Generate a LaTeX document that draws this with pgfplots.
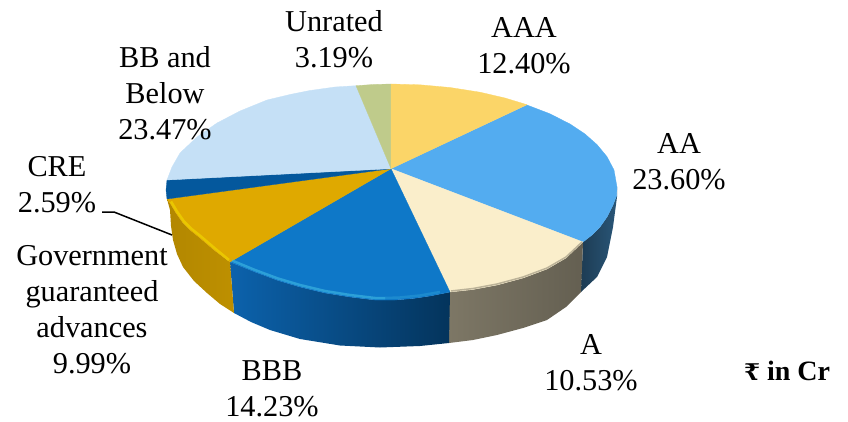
\documentclass[border=0pt]{standalone}
\usepackage{pgfplots}
\pgfplotsset{compat=1.18}
\usepackage{fontspec}
\setmainfont{Liberation Serif}
\newfontfamily\rupfont{DejaVu Serif}
\definecolor{cAAA}{HTML}{FBD568}
\definecolor{cAA}{HTML}{53ACF0}
\definecolor{cA}{HTML}{FAEECB}
\definecolor{cBBB}{HTML}{0E78C8}
\definecolor{cGov}{HTML}{DFA900}
\definecolor{cCRE}{HTML}{04589D}
\definecolor{cBB}{HTML}{C5E0F6}
\definecolor{cUn}{HTML}{BFCB8B}
\definecolor{wBBBa}{HTML}{0C62AC}
\definecolor{wBBBb}{HTML}{064A82}
\definecolor{wBBBc}{HTML}{04345C}
\tikzset{lab/.style={align=center, font=\fontsize{30.3}{36}\selectfont, inner sep=0pt}}
\begin{document}
\begin{tikzpicture}
\begin{axis}[
  scale only axis, width=848pt, height=422pt,
  xmin=0, xmax=848, ymin=0, ymax=422, y dir=reverse,
  hide axis, clip=false, no markers,
  every axis plot/.append style={line join=round}
]
\path (axis cs:0,0) rectangle (axis cs:848,422);
% side walls
\addplot[draw=none, left color=cAA!35!black, right color=cAA!50!black] coordinates {
 (617,187)(616.5,196)(613,205)(607,217)(600,227)(592,235)(583,242)
 (581,292)(597,277)(607,257)(613,227)(617,197)} -- cycle;
\addplot[draw=none, left color=cA!50!black, right color=cA!40!black] coordinates {
 (583,242)(566,258)(547,269)(523,278)(497,285)(473,289.5)(450,292)
 (449,343)(473,340)(497,335)(523,328)(547,320)(566,307)(581,292)} -- cycle;
\addplot[draw=none, left color=wBBBa, middle color=wBBBb, right color=wBBBc] coordinates {
 (450,292)(430,296)(413,298.5)(395,300)(375,300)(350,297)(325,293)(300,287)(278,280.5)(255,272)(230,262)
 (234,313)(251,322)(270,330)(300,339)(340,345.5)(380,347.5)(420,346)(449,343)} -- cycle;
\addplot[draw=none, left color=cGov!80!black, right color=cGov!85!black] coordinates {
 (230,262)(214,250)(200,238)(190,230)(183,223)(176,213)(170,203)(167,199)
 (170,210)(171,226)(173,240)(177,254)(183,267)(194,281)(207,293)(220,304)(234,313)} -- cycle;
% top surfaces
\addplot[fill=cAA, draw=cAA, line width=0.3pt] coordinates {
 (391,168.7)(527,105)(550,113.8)(570,124)(585,134)(597,144.6)(607,156.7)(614,170)(617,187)(616.5,196)(613,205)(607,217)(600,227)(592,235)(583,242)} -- cycle;
\addplot[fill=cA, draw=cA, line width=0.3pt] coordinates {
 (391,168.7)(583,242)(566,258)(547,269)(523,278)(497,285)(473,289.5)(450,292)} -- cycle;
\addplot[fill=cBBB, draw=cBBB, line width=0.3pt] coordinates {
 (391,168.7)(450,292)(430,296)(413,298.5)(395,300)(375,300)(350,297)(325,293)(300,287)(278,280.5)(255,272)(230,262)} -- cycle;
\addplot[fill=cGov, draw=cGov, line width=0.3pt] coordinates {
 (391,168.7)(230,262)(214,250)(200,238)(190,230)(183,223)(176,213)(170,203)(167,199)} -- cycle;
\addplot[fill=cCRE, draw=cCRE, line width=0.3pt] coordinates {
 (391,168.7)(167,199)(166,190)(167,180)} -- cycle;
\addplot[fill=cBB, draw=cBB, line width=0.3pt] coordinates {
 (391,168.7)(167,180)(172,167)(180,153)(197,137)(217,123)(240,111)(267,100)(290,94.5)(310,90.5)(335,87)(356,85.7)} -- cycle;
\addplot[fill=cUn, draw=cUn, line width=0.3pt] coordinates {
 (391,168.7)(356,85.7)(373,84.5)(391,84)} -- cycle;
\addplot[fill=cAAA, draw=cAAA, line width=0.3pt] coordinates {
 (391,168.7)(391,84)(420,84.8)(450,87.5)(480,92.2)(505,98)(527,104.7)} -- cycle;
% rim highlights
\addplot[draw=cBBB!60!cyan!75!white, opacity=0.55, line width=2.5pt] coordinates {
 (385,298)(375,298)(350,295)(325,291)(300,285)(278,278.5)(255,270)(232,260.5)};
\addplot[draw=cBBB!60!cyan!75!white, opacity=0.25, line width=2.5pt] coordinates {
 (385,298)(400,297.5)(420,295.5)(440,292)};
\addplot[draw=cGov!50!yellow, opacity=0.7, line width=2.5pt] coordinates {
 (229,260)(215,248.5)(201,236.5)(191,228.5)(184,221.5)(177,211.5)(171,201.5)};
\addplot[draw=black, opacity=0.25, line width=1.5pt] coordinates {
 (582,242)(566,257)(547,268)(523,277)(497,284)(473,288.5)(451,291)};
% leader
\addplot[draw=black, line width=1.5pt] coordinates {(102,212)(114,212)(172,235)};
% labels
\node[lab] at (axis cs:334,39) {Unrated\\3.19\%};
\node[lab] at (axis cs:524,46) {AAA\\12.40\%};
\node[lab] at (axis cs:679,162) {AA\\23.60\%};
\node[lab] at (axis cs:591,363) {A\\10.53\%};
\node[lab] at (axis cs:272,389) {BBB\\14.23\%};
\node[lab] at (axis cs:92,310) {Government\\guaranteed\\advances\\9.99\%};
\node[lab] at (axis cs:57,185) {CRE\\2.59\%};
\node[lab] at (axis cs:165,93) {BB and\\Below\\23.47\%};
\node[inner sep=0pt, font=\fontsize{28}{30}\selectfont\bfseries] at (axis cs:787,371) {{\rupfont\fontsize{23}{30}\selectfont ₹} in Cr};
\end{axis}
\end{tikzpicture}
\end{document}
